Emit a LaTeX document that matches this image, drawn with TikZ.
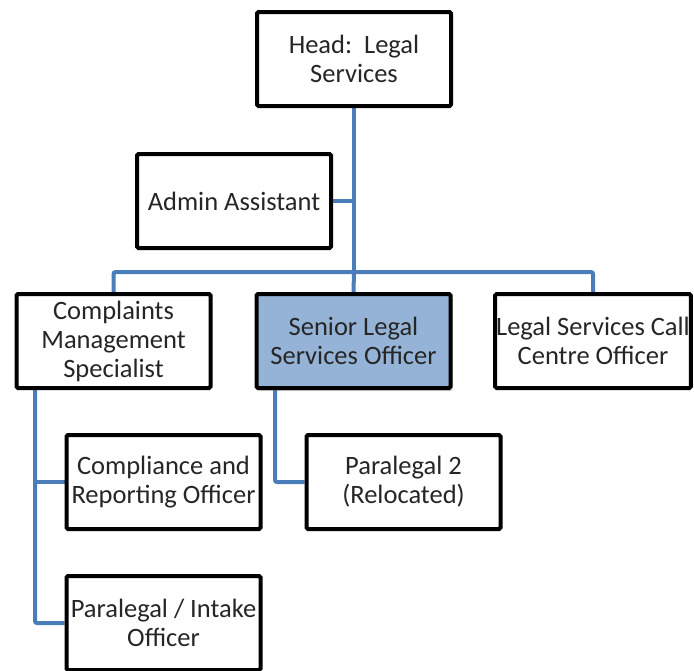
\documentclass[tikz,border=0pt]{standalone}
\usepackage{fontspec}
\setmainfont{Carlito}
\usepackage{tikz}
\usetikzlibrary{positioning, backgrounds, shadows}
\definecolor{linkblue}{HTML}{4A7EBB}
\definecolor{hilite}{HTML}{95B3D7}
\tikzset{
    post/.style={draw=black, line width=4pt, fill=white, rounded corners=1.5pt,
        minimum width=194pt, minimum height=94pt, inner sep=1pt,
        align=center, text=black!85, font=\fontsize{26.5}{29}\selectfont},
    senior/.style={post, fill=hilite,
        drop shadow={opacity=0.35, shadow xshift=2pt, shadow yshift=-3pt}},
    link/.style={draw=linkblue, line width=4pt, rounded corners=2pt}
}

\begin{document}
\begin{tikzpicture}[x=1pt, y=-1pt]
    \useasboundingbox (0,0) rectangle (694,670);
    \clip (0,0) rectangle (694,670);

    % posts
    \node[post] (head) at (354,59) {Head:\ \ Legal\\Services};
    \node[post] (admin) at (234,201) {Admin Assistant};
    \node[post] (cms) at (113.5,341) {Complaints\\Management\\Specialist};
    \node[senior] (slso) at (353.5,341) {Senior Legal\\Services Officer};
    \node[post] (call) at (593,341) {Legal Services Call\\Centre Officer};
    \node[post] (cro) at (163.5,482) {Compliance and\\Reporting Officer};
    \node[post] (para) at (403.5,482) {Paralegal 2\\(Relocated)};
    \node[post] (intake) at (163.5,623) {Paralegal / Intake\\Officer};

    % reporting lines
    \coordinate (bus) at (354,272);
    \coordinate (cmsrail) at (35,0);
    \coordinate (slsorail) at (275,0);
    \begin{scope}[on background layer]
        \draw[link] (head.south) -- (bus);
        \draw[link] (admin.east) -- (admin.east -| bus);
        \draw[link] (cms.north) |- (bus) -| (call.north);
        \draw[link] (bus) -- (slso.north);
        \draw[link] (cms.south -| cmsrail) |- (intake.west);
        \draw[link] (cro.west -| cmsrail) -- (cro.west);
        \draw[link] (slso.south -| slsorail) |- (para.west);
    \end{scope}
\end{tikzpicture}
\end{document}
